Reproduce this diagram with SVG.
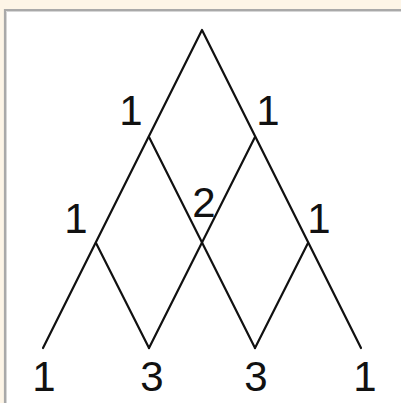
<svg xmlns="http://www.w3.org/2000/svg" width="401" height="403" viewBox="0 0 401 403">
<style>
.e{stroke:#111;stroke-width:2.2;fill:none;stroke-linecap:round;stroke-linejoin:round}
.t{font-family:"Liberation Sans",Arial,sans-serif;font-size:42px;fill:#111;text-anchor:middle}
</style>
<rect x="0" y="0" width="401" height="403" fill="#fdf5e7"/>
<rect x="4" y="9" width="397" height="394" fill="#ffffff"/>
<path d="M4,10 H401 M5,9 V403" stroke="#a9a9a9" stroke-width="2.2" fill="none"/>
<path d="M6.5,11.5 H401 M6.5,11.5 V403" stroke="#d6d6d6" stroke-width="1" fill="none"/>
<g id="connectors">
<path class="e" d="M43,348 L202,30 L361,348"/>
<path class="e" d="M149,137 L255,348"/>
<path class="e" d="M255,137 L149,348"/>
<path class="e" d="M96,243 L149,348"/>
<path class="e" d="M308,243 L255,348"/>
</g>
<g id="n1l"><text class="t" x="131" y="125">1</text></g>
<g id="n1r"><text class="t" x="268" y="125">1</text></g>
<g id="n2l"><text class="t" x="76" y="233">1</text></g>
<g id="n2c"><text class="t" x="204" y="217">2</text></g>
<g id="n2r"><text class="t" x="319" y="233">1</text></g>
<g id="n3a"><text class="t" x="44" y="391">1</text></g>
<g id="n3b"><text class="t" x="152" y="391">3</text></g>
<g id="n3c"><text class="t" x="256" y="391">3</text></g>
<g id="n3d"><text class="t" x="365" y="391">1</text></g>
</svg>
